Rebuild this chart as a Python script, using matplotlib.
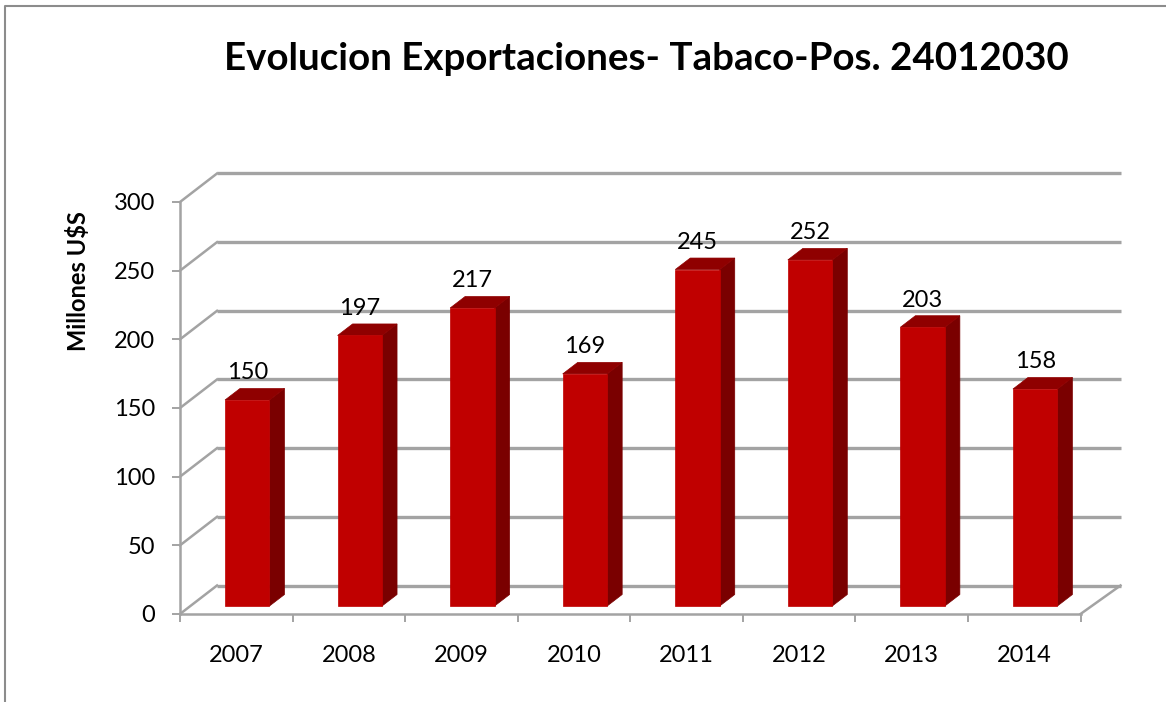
import matplotlib
matplotlib.use('Agg')
import matplotlib.pyplot as plt
from matplotlib.lines import Line2D
from matplotlib.patches import Polygon

years = ['2007', '2008', '2009', '2010', '2011', '2012', '2013', '2014']
values = [150, 197, 217, 169, 245, 252, 203, 158]
y_ticks = [0, 50, 100, 150, 200, 250, 300]

W, H = 1166, 702
GREY = '#a3a3a3'

plt.rcParams['font.family'] = ['Lato', 'DejaVu Sans']

fig = plt.figure(figsize=(W / 100, H / 100), dpi=100)
# front plane of the fake 3d box, in pixels
left, right, bottom, top = 180, 1080.5, 614, 202
ax = fig.add_axes([left / W, 1 - bottom / H, (right - left) / W, (bottom - top) / H])
ax.set_xlim(0, len(years))
ax.set_ylim(0, 300)
ax.patch.set_alpha(0)

px_x = len(years) / (right - left)
px_y = 300 / (bottom - top)

# back wall
wall_dx, wall_dy = 37 * px_x, 28.5 * px_y
for t in y_ticks:
    ax.plot([0, wall_dx], [t, t + wall_dy], color=GREY, lw=1.8, clip_on=False, zorder=1)
    ax.plot([wall_dx, len(years) + 40 * px_x], [t + wall_dy, t + wall_dy], color=GREY, lw=2.4,
            clip_on=False, zorder=1, solid_capstyle='butt')
ax.plot([len(years), len(years) + 40 * px_x], [0, wall_dy], color=GREY, lw=1.8, clip_on=False, zorder=1)

# bars, front face then side and top
lift = 8 * px_y
bar_w = 0.395
depth_x, depth_y = 15 * px_x, 11.5 * px_y
xs = [i + 0.4 for i in range(len(years))]
for x, v in zip(xs, values):
    y1 = v + lift
    side = [(x + bar_w, lift), (x + bar_w + depth_x, lift + depth_y),
            (x + bar_w + depth_x, y1 + depth_y), (x + bar_w, y1)]
    roof = [(x, y1), (x + depth_x, y1 + depth_y), (x + bar_w + depth_x, y1 + depth_y), (x + bar_w, y1)]
    ax.add_patch(Polygon(side, closed=True, fc='#7a0000', ec='#7a0000', lw=0.5, zorder=3, clip_on=False))
    ax.add_patch(Polygon(roof, closed=True, fc='#8f0000', ec='#8f0000', lw=0.5, zorder=3, clip_on=False))
    ax.annotate(str(v), (x + bar_w / 2, y1), xytext=(0, 19.5), textcoords='offset points',
                ha='center', va='center', fontsize=17, color='black', zorder=5)
ax.bar(xs, values, bar_w, bottom=lift, align='edge', color='#c00000', ec='#c00000', lw=0.5,
       zorder=4, clip_on=False)

for side_name in ['top', 'right']:
    ax.spines[side_name].set_visible(False)
for side_name in ['left', 'bottom']:
    ax.spines[side_name].set_color(GREY)
    ax.spines[side_name].set_linewidth(1.8)

ax.set_yticks(y_ticks)
ax.tick_params(axis='y', length=6, width=1.4, color=GREY, labelsize=17, pad=12)
ax.set_xticks(range(len(years) + 1))
ax.set_xticklabels([])
ax.tick_params(axis='x', which='major', length=6, width=1.4, color=GREY)
ax.set_xticks([i + 0.5 for i in range(len(years))], minor=True)
ax.set_xticklabels(years, minor=True)
ax.tick_params(axis='x', which='minor', length=0, labelsize=17, pad=22)

fig.text(646 / W, 1 - 58.5 / H, 'Evolucion Exportaciones- Tabaco-Pos. 24012030', ha='center', va='center',
         fontsize=27.7, fontweight='bold', color='black')
fig.text(78.5 / W, 1 - 281 / H, 'Millones U$S', rotation=90, ha='center', va='center',
         fontsize=17, fontweight='bold', color='black')

# outer chart border, only top and left are in view
fig.add_artist(Line2D([4.5 / W, 4.5 / W, 1], [0, 1 - 6 / H, 1 - 6 / H], color='#8c8c8c', lw=1.5))

fig.savefig('out.png', dpi=100)
